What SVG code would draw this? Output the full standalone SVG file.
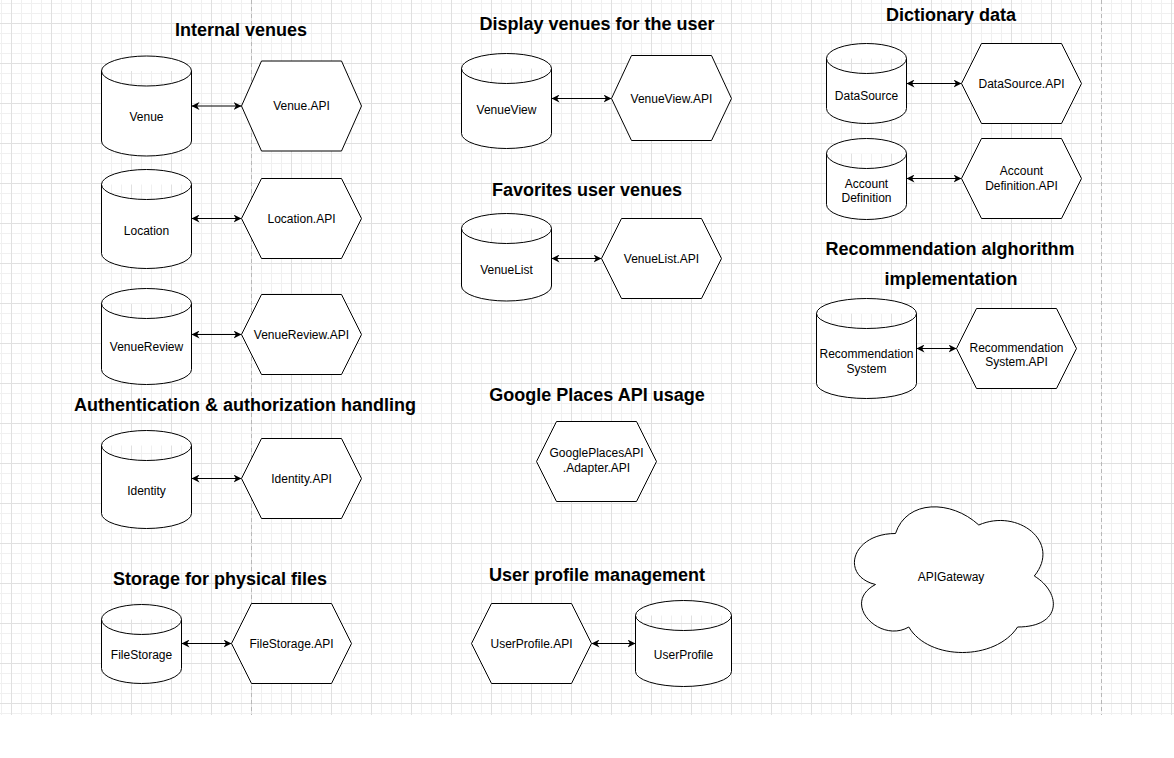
<svg xmlns="http://www.w3.org/2000/svg" width="1174" height="758" viewBox="0 0 1174 758">
<defs>
<pattern id="grid" x="11" y="23" width="40" height="40" patternUnits="userSpaceOnUse">
<rect x="10" y="0" width="1" height="40" fill="#f0f0f0"/>
<rect x="20" y="0" width="1" height="40" fill="#f0f0f0"/>
<rect x="30" y="0" width="1" height="40" fill="#f0f0f0"/>
<rect x="0" y="10" width="40" height="1" fill="#f0f0f0"/>
<rect x="0" y="20" width="40" height="1" fill="#f0f0f0"/>
<rect x="0" y="30" width="40" height="1" fill="#f0f0f0"/>
<rect x="0" y="0" width="1" height="40" fill="#e0e0e0"/>
<rect x="0" y="0" width="40" height="1" fill="#e0e0e0"/>
</pattern>
<marker id="arr" viewBox="0 0 10 10" refX="10" refY="5" markerWidth="8" markerHeight="8" markerUnits="userSpaceOnUse" orient="auto-start-reverse">
<path d="M0,0 L10,5 L0,10 L3,5 Z" fill="#000"/>
</marker>
<style>
.shape{fill:#fff;stroke:#000;stroke-width:1}
.lbl{font-family:"Liberation Sans",Arial,Helvetica,sans-serif;font-size:12px;fill:#000;text-anchor:middle}
.ttl{font-family:"Liberation Sans",Arial,Helvetica,sans-serif;font-size:18px;font-weight:bold;fill:#000;text-anchor:middle}
.conn{fill:none;stroke:#000;stroke-width:1;marker-start:url(#arr);marker-end:url(#arr)}
.pb{stroke:#b8b8b8;stroke-width:1;stroke-dasharray:4 3}
</style>
</defs>
<rect x="0" y="0" width="1174" height="758" fill="#fff"/>
<rect x="0" y="0" width="1174" height="715" fill="url(#grid)"/>
<line class="pb" x1="251.5" y1="0" x2="251.5" y2="715"/>
<line class="pb" x1="1101.5" y1="0" x2="1101.5" y2="715"/>

<g id="titles">
<text class="ttl" x="241" y="36">Internal venues</text>
<text class="ttl" x="597" y="30">Display venues for the user</text>
<text class="ttl" x="951" y="21">Dictionary data</text>
<text class="ttl" x="587" y="196">Favorites user venues</text>
<text class="ttl" x="950" y="255">Recommendation alghorithm</text>
<text class="ttl" x="951" y="285">implementation</text>
<text class="ttl" x="245" y="411">Authentication &amp; authorization handling</text>
<text class="ttl" x="597" y="401">Google Places API usage</text>
<text class="ttl" x="220" y="585">Storage for physical files</text>
<text class="ttl" x="597" y="581">User profile management</text>
</g>

<g id="connectors">
<line class="conn" x1="191.5" y1="106" x2="241.5" y2="106"/>
<line class="conn" x1="191.5" y1="218.5" x2="241.5" y2="218.5"/>
<line class="conn" x1="191.5" y1="334.5" x2="241.5" y2="334.5"/>
<line class="conn" x1="191.5" y1="478.5" x2="241.5" y2="478.5"/>
<line class="conn" x1="181.5" y1="643.5" x2="231.5" y2="643.5"/>
<line class="conn" x1="551.5" y1="98.5" x2="611.5" y2="98.5"/>
<line class="conn" x1="551.5" y1="258.5" x2="601.5" y2="258.5"/>
<line class="conn" x1="591.5" y1="643.5" x2="635.5" y2="643.5"/>
<line class="conn" x1="906.5" y1="83.5" x2="961.5" y2="83.5"/>
<line class="conn" x1="906.5" y1="178.5" x2="961.5" y2="178.5"/>
<line class="conn" x1="916.5" y1="348.5" x2="956.5" y2="348.5"/>
</g>

<g id="venue">
<path class="shape" d="M101.5,71 A45,15 0 0 1 191.5,71 L191.5,141 A45,15 0 0 1 101.5,141 Z M101.5,71 A45,15 0 0 0 191.5,71"/>
<text class="lbl" x="146.5" y="121">Venue</text>
</g>
<g id="venue-api">
<path class="shape" d="M261.5,61 L341.5,61 L361.5,106 L341.5,151 L261.5,151 L241.5,106 Z"/>
<text class="lbl" x="301.5" y="110">Venue.API</text>
</g>

<g id="location">
<path class="shape" d="M101.5,184.5 A45,15 0 0 1 191.5,184.5 L191.5,253.5 A45,15 0 0 1 101.5,253.5 Z M101.5,184.5 A45,15 0 0 0 191.5,184.5"/>
<text class="lbl" x="146.5" y="235">Location</text>
</g>
<g id="location-api">
<path class="shape" d="M261.5,178.5 L341.5,178.5 L361.5,218.5 L341.5,258.5 L261.5,258.5 L241.5,218.5 Z"/>
<text class="lbl" x="301.5" y="222.5">Location.API</text>
</g>

<g id="venuereview">
<path class="shape" d="M101.5,303.5 A45,15 0 0 1 191.5,303.5 L191.5,369.5 A45,15 0 0 1 101.5,369.5 Z M101.5,303.5 A45,15 0 0 0 191.5,303.5"/>
<text class="lbl" x="146.5" y="350.5">VenueReview</text>
</g>
<g id="venuereview-api">
<path class="shape" d="M261.5,294.5 L341.5,294.5 L361.5,334.5 L341.5,374.5 L261.5,374.5 L241.5,334.5 Z"/>
<text class="lbl" x="301.5" y="338.5">VenueReview.API</text>
</g>

<g id="identity">
<path class="shape" d="M101.5,445.5 A45,15 0 0 1 191.5,445.5 L191.5,513.5 A45,15 0 0 1 101.5,513.5 Z M101.5,445.5 A45,15 0 0 0 191.5,445.5"/>
<text class="lbl" x="146.5" y="495">Identity</text>
</g>
<g id="identity-api">
<path class="shape" d="M261.5,438.5 L341.5,438.5 L361.5,478.5 L341.5,518.5 L261.5,518.5 L241.5,478.5 Z"/>
<text class="lbl" x="301.5" y="482.5">Identity.API</text>
</g>

<g id="filestorage">
<path class="shape" d="M101.5,619.5 A40,15 0 0 1 181.5,619.5 L181.5,668.5 A40,15 0 0 1 101.5,668.5 Z M101.5,619.5 A40,15 0 0 0 181.5,619.5"/>
<text class="lbl" x="141.5" y="659">FileStorage</text>
</g>
<g id="filestorage-api">
<path class="shape" d="M251.5,603.5 L331.5,603.5 L351.5,643.5 L331.5,683.5 L251.5,683.5 L231.5,643.5 Z"/>
<text class="lbl" x="291.5" y="647.5">FileStorage.API</text>
</g>

<g id="venueview">
<path class="shape" d="M461.5,68.5 A45,15 0 0 1 551.5,68.5 L551.5,133.5 A45,15 0 0 1 461.5,133.5 Z M461.5,68.5 A45,15 0 0 0 551.5,68.5"/>
<text class="lbl" x="506.5" y="114">VenueView</text>
</g>
<g id="venueview-api">
<path class="shape" d="M631.5,55.5 L711.5,55.5 L731.5,98.5 L711.5,140.5 L631.5,140.5 L611.5,98.5 Z"/>
<text class="lbl" x="671.5" y="102.5">VenueView.API</text>
</g>

<g id="venuelist">
<path class="shape" d="M461.5,228.5 A45,15 0 0 1 551.5,228.5 L551.5,286 A45,15 0 0 1 461.5,286 Z M461.5,228.5 A45,15 0 0 0 551.5,228.5"/>
<text class="lbl" x="506.5" y="274">VenueList</text>
</g>
<g id="venuelist-api">
<path class="shape" d="M621.5,218.5 L701.5,218.5 L721.5,258.5 L701.5,298.5 L621.5,298.5 L601.5,258.5 Z"/>
<text class="lbl" x="661.5" y="262.5">VenueList.API</text>
</g>

<g id="googleplaces-adapter-api">
<path class="shape" d="M556.5,421.5 L636.5,421.5 L656.5,461.5 L636.5,501.5 L556.5,501.5 L536.5,461.5 Z"/>
<text class="lbl" x="596.5" y="457">GooglePlacesAPI</text>
<text class="lbl" x="596.5" y="472">.Adapter.API</text>
</g>

<g id="userprofile-api">
<path class="shape" d="M491.5,603.5 L571.5,603.5 L591.5,643.5 L571.5,683.5 L491.5,683.5 L471.5,643.5 Z"/>
<text class="lbl" x="531.5" y="647.5">UserProfile.API</text>
</g>
<g id="userprofile">
<path class="shape" d="M635.5,615.5 A48,15 0 0 1 731.5,615.5 L731.5,671.5 A48,15 0 0 1 635.5,671.5 Z M635.5,615.5 A48,15 0 0 0 731.5,615.5"/>
<text class="lbl" x="683.5" y="659">UserProfile</text>
</g>

<g id="datasource">
<path class="shape" d="M826.5,58.5 A40,15 0 0 1 906.5,58.5 L906.5,108.5 A40,15 0 0 1 826.5,108.5 Z M826.5,58.5 A40,15 0 0 0 906.5,58.5"/>
<text class="lbl" x="866.5" y="100">DataSource</text>
</g>
<g id="datasource-api">
<path class="shape" d="M981.5,43.5 L1061.5,43.5 L1081.5,83.5 L1061.5,123.5 L981.5,123.5 L961.5,83.5 Z"/>
<text class="lbl" x="1021.5" y="87.5">DataSource.API</text>
</g>

<g id="account-definition">
<path class="shape" d="M826.5,153.5 A40,15 0 0 1 906.5,153.5 L906.5,204.5 A40,15 0 0 1 826.5,204.5 Z M826.5,153.5 A40,15 0 0 0 906.5,153.5"/>
<text class="lbl" x="866.5" y="188">Account</text>
<text class="lbl" x="866.5" y="202">Definition</text>
</g>
<g id="account-definition-api">
<path class="shape" d="M981.5,138.5 L1061.5,138.5 L1081.5,178.5 L1061.5,218.5 L981.5,218.5 L961.5,178.5 Z"/>
<text class="lbl" x="1021.5" y="175">Account</text>
<text class="lbl" x="1021.5" y="190">Definition.API</text>
</g>

<g id="recommendation-system">
<path class="shape" d="M816.5,313.5 A50,15 0 0 1 916.5,313.5 L916.5,383.5 A50,15 0 0 1 816.5,383.5 Z M816.5,313.5 A50,15 0 0 0 916.5,313.5"/>
<text class="lbl" x="866.5" y="357.5">Recommendation</text>
<text class="lbl" x="866.5" y="372.5">System</text>
</g>
<g id="recommendation-system-api">
<path class="shape" d="M976.5,308.5 L1056.5,308.5 L1076.5,348.5 L1056.5,388.5 L976.5,388.5 L956.5,348.5 Z"/>
<text class="lbl" x="1016.5" y="352">Recommendation</text>
<text class="lbl" x="1016.5" y="366">System.API</text>
</g>

<g id="apigateway">
<path class="shape" d="M895.5,533.5 C851.1,533.5 840,576 875.5,584.5 C840,603.2 880,644 908.8,627 C928.8,661 995.4,661 1017.6,627 C1062,627 1062,593 1034.3,576 C1062,542 1017.6,508 978.8,525 C951,499.5 906.6,499.5 895.5,533.5 Z"/>
<text class="lbl" x="951" y="581">APIGateway</text>
</g>
</svg>
